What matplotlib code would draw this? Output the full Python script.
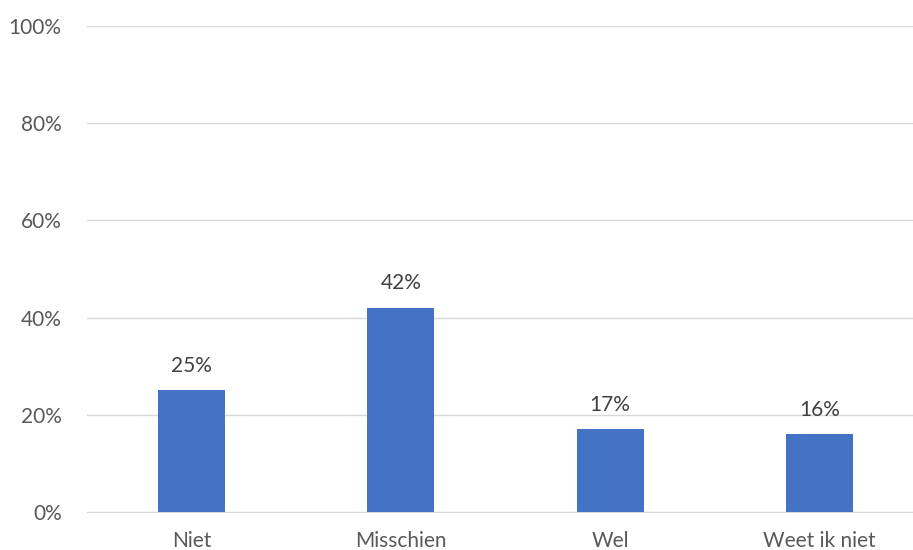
import matplotlib.pyplot as plt
from matplotlib.ticker import PercentFormatter

categories = ['Niet', 'Misschien', 'Wel', 'Weet ik niet']
values = [25, 42, 17, 16]
yticks = [0, 20, 40, 60, 80, 100]

plt.rcParams['font.family'] = ['Lato', 'DejaVu Sans']

fig = plt.figure(figsize=(9.13, 5.5), dpi=100)
ax = fig.add_axes([0.095, 0.069, 0.905, 0.884])

x = range(len(categories))
bars = ax.bar(x, values, width=0.32, color='#4472c4', zorder=3)

for b, v in zip(bars, values):
    ax.text(b.get_x() + b.get_width() / 2, v + 3, f'{v}%', ha='center', va='bottom',
            fontsize=15, color='#404040')

ax.set_xlim(-0.5, 3.447)
ax.set_ylim(0, 100)
ax.set_yticks(yticks)
ax.yaxis.set_major_formatter(PercentFormatter(decimals=0))
ax.set_xticks(list(x))
ax.set_xticklabels(categories)
ax.grid(axis='y', color='#d9d9d9', linewidth=1, zorder=0)
for s in ['top', 'right', 'left']:
    ax.spines[s].set_visible(False)
ax.spines['bottom'].set_color('#d9d9d9')
ax.tick_params(axis='both', length=0, labelsize=15, colors='#595959')
ax.tick_params(axis='x', pad=14)
ax.tick_params(axis='y', pad=18)

fig.savefig('out.png', dpi=100)
